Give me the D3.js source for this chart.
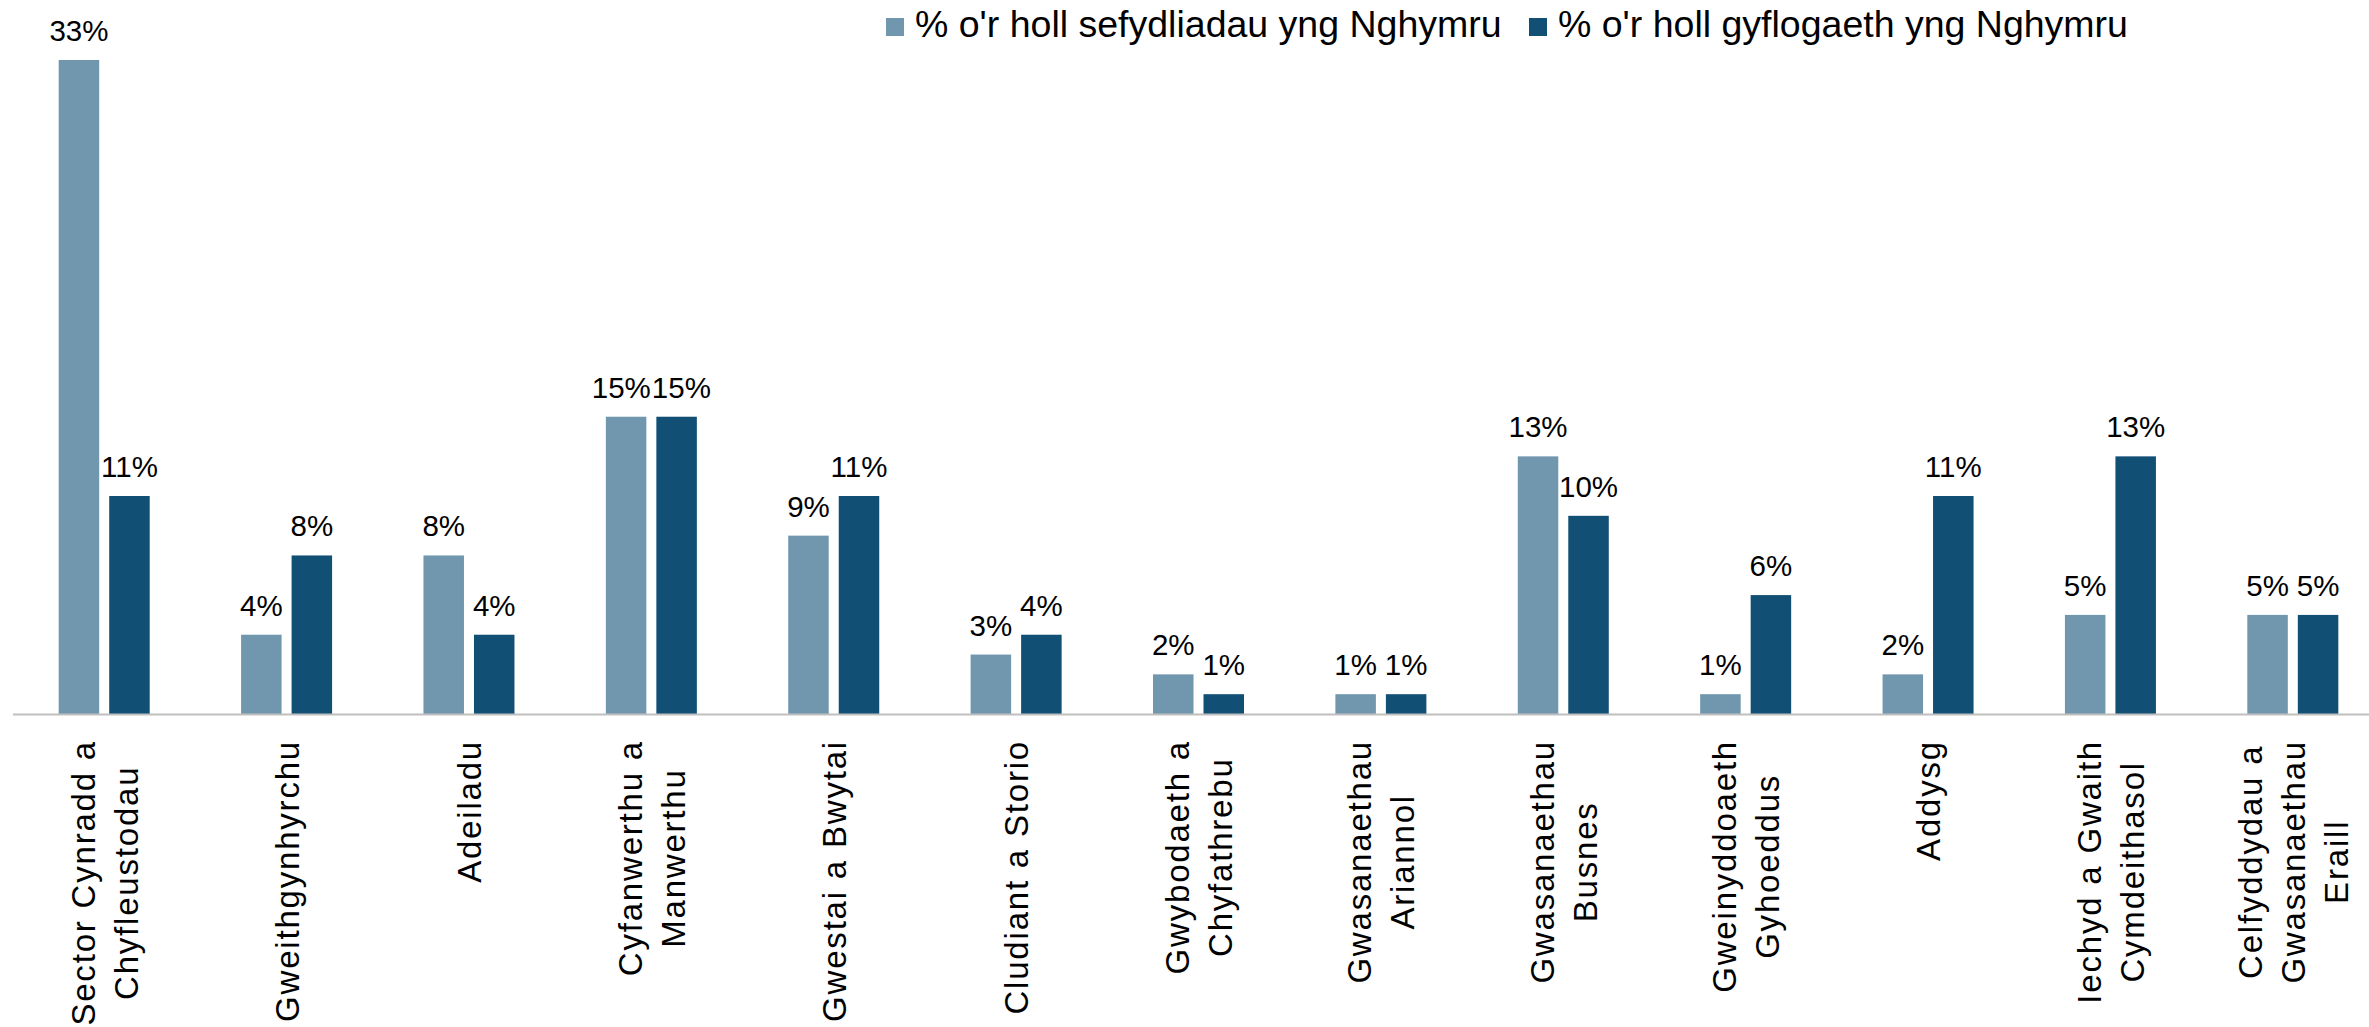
<!DOCTYPE html>
<html>
<head>
<meta charset="utf-8">
<script src="https://cdn.jsdelivr.net/npm/d3@7"></script>
<style>
  body { margin: 0; background: #fff; }
  text { font-family: Arial, "Liberation Sans", sans-serif; fill: #000; }
</style>
</head>
<body>
<div id="chart"></div>
<script>
// Sectors (line breaks as in the original labels)
const categories = [
    "Sector Cynradd a\nChyfleustodau",
    "Gweithgynhyrchu",
    "Adeiladu",
    "Cyfanwerthu a\nManwerthu",
    "Gwestai a Bwytai",
    "Cludiant a Storio",
    "Gwybodaeth a\nChyfathrebu",
    "Gwasanaethau\nAriannol",
    "Gwasanaethau\nBusnes",
    "Gweinyddoaeth\nGyhoeddus",
    "Addysg",
    "Iechyd a Gwaith\nCymdeithasol",
    "Celfyddydau a\nGwasanaethau\nEraill"
];

const seriesNames = [
    "% o'r holl sefydliadau yng Nghymru",
    "% o'r holl gyflogaeth yng Nghymru"
];

// % of all establishments / % of all employment
const establishments = [33, 4, 8, 15, 9, 3, 2, 1, 13, 1, 2, 5, 5];
const employment = [11, 8, 4, 15, 11, 4, 1, 1, 10, 6, 11, 13, 5];

const colors = ["#7197AF", "#124F75"];

const width = 2369;
const height = 1027;

const svg = d3.select("#chart")
    .append("svg")
    .attr("width", width)
    .attr("height", height);

// scales
const x0 = d3.scaleBand()
    .domain(categories)
    .range([13, 2384])
    .padding(0);

const x1 = d3.scaleBand()
    .domain([0, 1])
    .range([45.7, 136.7])
    .paddingInner(0.198);

const y = d3.scaleLinear()
    .domain([0, 33])
    .range([714, 60]);

const rows = categories.map((c, i) => ({ cat: c, values: [establishments[i], employment[i]] }));

// bars
const groups = svg.append("g")
    .selectAll("g")
    .data(rows)
    .join("g")
    .attr("transform", d => `translate(${x0(d.cat)},0)`);

groups.selectAll("rect")
    .data(d => d.values.map((v, k) => ({ k, v })))
    .join("rect")
    .attr("x", d => x1(d.k))
    .attr("y", d => y(d.v))
    .attr("width", x1.bandwidth())
    .attr("height", d => y(0) - y(d.v))
    .attr("fill", d => colors[d.k]);

// value labels
groups.selectAll("text.val")
    .data(d => d.values.map((v, k) => ({ k, v })))
    .join("text")
    .attr("class", "val")
    .attr("x", d => x1(d.k) + x1.bandwidth() / 2)
    .attr("y", d => y(d.v) - 19)
    .attr("text-anchor", "middle")
    .style("font-size", "29.5px")
    .text(d => d.v + "%");

// push apart value labels that collide (same height bars)
groups.each(function () {
    const labels = d3.select(this).selectAll("text.val").nodes();
    const a = labels[0].getBBox(), b = labels[1].getBBox();
    const sameRow = Math.abs(a.y - b.y) < a.height;
    const overlap = a.x + a.width - b.x;
    if (sameRow && overlap > 0) {
        const shift = overlap / 2 + 0.5;
        d3.select(labels[0]).attr("x", +labels[0].getAttribute("x") - shift);
        d3.select(labels[1]).attr("x", +labels[1].getAttribute("x") + shift);
    }
});

// x axis line
svg.append("line")
    .attr("x1", 13)
    .attr("x2", width)
    .attr("y1", y(0) + 0.5)
    .attr("y2", y(0) + 0.5)
    .attr("stroke", "#BFBFBF")
    .attr("stroke-width", 2);

// category labels: rotated, block aligned to top, lines centred on each other
const labelTop = 740;
const lineGap = 43;
categories.forEach(c => {
    const lines = c.split("\n");
    const cx = x0(c) + x0.bandwidth() / 2;
    const g = svg.append("g");
    const texts = lines.map((ln, i) => g.append("text")
        .style("font-size", "33px")
        .style("letter-spacing", "1.8px")
        .attr("text-anchor", "middle")
        .text(ln));
    const maxW = d3.max(texts, t => t.node().getComputedTextLength());
    texts.forEach((t, i) => {
        const bx = cx + (i - (lines.length - 1) / 2) * lineGap + 12;
        const by = labelTop + maxW / 2;
        t.attr("transform", `translate(${bx},${by}) rotate(-90)`);
    });
});

// legend
const legendX = [886, 1529];
const legend = svg.append("g")
    .selectAll("g")
    .data(seriesNames)
    .join("g")
    .attr("transform", (d, i) => `translate(${legendX[i]},0)`);

legend.append("rect")
    .attr("x", 0)
    .attr("y", 18)
    .attr("width", 18)
    .attr("height", 18)
    .attr("fill", (d, i) => colors[i]);

legend.append("text")
    .attr("x", 29)
    .attr("y", 37)
    .style("font-size", "37.5px")
    .text(d => d);
</script>
</body>
</html>
